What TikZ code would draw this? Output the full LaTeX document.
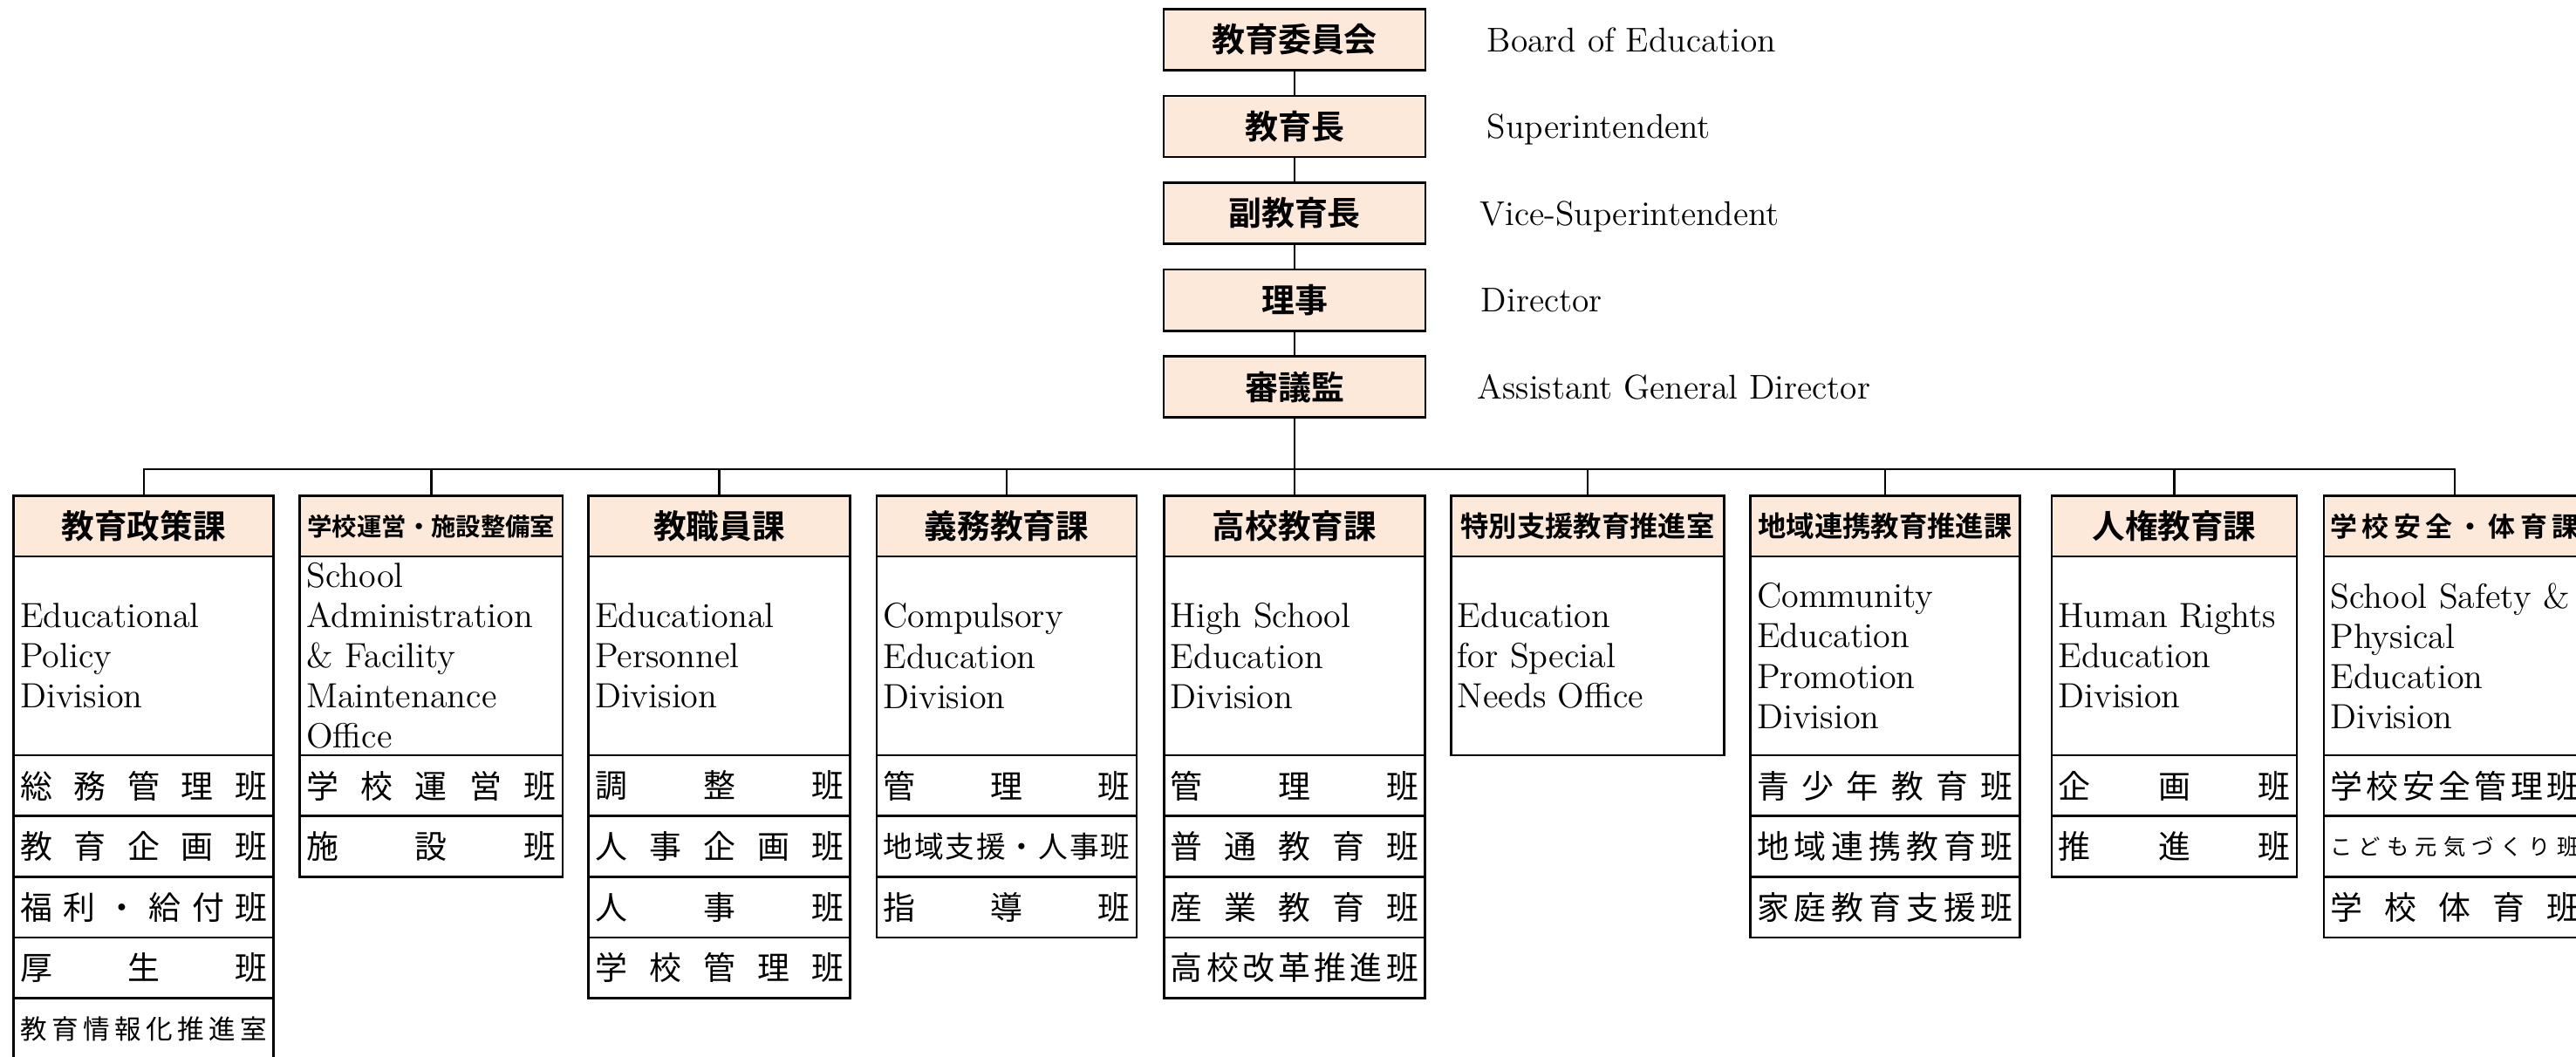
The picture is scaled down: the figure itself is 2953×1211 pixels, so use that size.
\documentclass[tikz,border=0pt]{standalone}
\usepackage{fontspec}
\newfontfamily\jpfont{Noto Sans CJK JP}[BoldFont={* Bold}]
\usetikzlibrary{positioning}
\definecolor{headfill}{RGB}{253,233,217}

\makeatletter
\newcommand\spread[1]{\hbox to\linewidth{\@tfor\spr@ch:=#1\do{\spr@ch\hfill}\unskip}}
\makeatother

\tikzstyle{topbox}   = [draw, line width=0.75pt, fill=headfill, minimum width=3cm, minimum height=0.7cm, outer sep=0pt, font=\jpfont\bfseries\fontsize{10.8}{12}\selectfont]
\tikzstyle{toplabel} = [inner xsep=0pt, text height=7.8pt, text depth=0pt, font=\fontsize{11.2}{13}\selectfont]
\tikzstyle{head}     = [draw, line width=0.75pt, fill=headfill, minimum height=0.695cm, inner xsep=0.075cm, inner ysep=0pt, outer sep=0pt, align=center, font=\jpfont\bfseries\fontsize{10.7}{12}\selectfont]
\tikzstyle{desc}     = [draw, line width=0.75pt, minimum height=2.28cm, inner xsep=0.075cm, inner ysep=0pt, outer sep=0pt, align=left, font=\fontsize{11.4}{13.1}\selectfont]
\tikzstyle{team}     = [draw, line width=0.75pt, minimum height=0.696cm, inner xsep=0.075cm, inner ysep=0pt, outer sep=0pt, font=\jpfont\fontsize{10.5}{12}\selectfont]
\tikzstyle{link}     = [line width=0.65pt]
\tikzset{col/.style={minimum width=#1cm, text width=#1cm-0.15cm}}

\begin{document}
\begin{tikzpicture}[x=0.01cm, y=-0.01cm]
    \useasboundingbox (0,0) rectangle (2953,1211);

    % top of the organisation
    \node[topbox] (boe) at (1484,45.5) {教育委員会};
    \node[topbox, below=0.295cm of boe] (supt) {教育長};
    \node[topbox, below=0.295cm of supt] (vsupt) {副教育長};
    \node[topbox, below=0.295cm of vsupt] (dir) {理事};
    \node[topbox, below=0.295cm of dir] (agd) {審議監};

    \node[toplabel, right=0.7cm of boe] (boe-en) {Board of Education};
    \node[toplabel, right=0.7cm of supt] (supt-en) {Superintendent};
    \node[toplabel, right=0.62cm of vsupt] (vsupt-en) {Vice-Superintendent};
    \node[toplabel, right=0.63cm of dir] (dir-en) {Director};
    \node[toplabel, right=0.59cm of agd] (agd-en) {Assistant General Director};

    % divisions
    \begin{scope}[every node/.append style={col=2.98}]
        \node[head] (policy) at (164.7,603.25) {教育政策課};
        \node[desc, below=0pt of policy] (policy-en) {Educational\\Policy\\Division};
        \node[team, below=0pt of policy-en] (policy-1) {\spread{総務管理班}};
        \node[team, below=0pt of policy-1] (policy-2) {\spread{教育企画班}};
        \node[team, below=0pt of policy-2] (policy-3) {\spread{福利・給付班}};
        \node[team, below=0pt of policy-3] (policy-4) {\spread{厚生班}};
        \node[team, below=0pt of policy-4, font=\jpfont\fontsize{8.7}{10}\selectfont] (policy-5) {\spread{教育情報化推進室}};
    \end{scope}

    \begin{scope}[every node/.append style={col=3.01}]
        \node[head, font=\jpfont\bfseries\fontsize{8.07}{10}\selectfont] (facility) at (494.4,603.25) {学校運営・施設整備室};
        \node[desc, below=0pt of facility] (facility-en) {School\\Administration\\\& Facility\\Maintenance\\Office};
        \node[team, below=0pt of facility-en] (facility-1) {\spread{学校運営班}};
        \node[team, below=0pt of facility-1] (facility-2) {\spread{施設班}};
    \end{scope}

    \begin{scope}[every node/.append style={col=3.00}]
        \node[head] (personnel) at (824.6,603.25) {教職員課};
        \node[desc, below=0pt of personnel] (personnel-en) {Educational\\Personnel\\Division};
        \node[team, below=0pt of personnel-en] (personnel-1) {\spread{調整班}};
        \node[team, below=0pt of personnel-1] (personnel-2) {\spread{人事企画班}};
        \node[team, below=0pt of personnel-2] (personnel-3) {\spread{人事班}};
        \node[team, below=0pt of personnel-3] (personnel-4) {\spread{学校管理班}};
    \end{scope}

    \begin{scope}[every node/.append style={col=2.98}]
        \node[head] (compulsory) at (1154,603.25) {義務教育課};
        \node[desc, below=0pt of compulsory] (compulsory-en) {Compulsory\\Education\\Division};
        \node[team, below=0pt of compulsory-en] (compulsory-1) {\spread{管理班}};
        \node[team, below=0pt of compulsory-1, font=\jpfont\fontsize{9.6}{11}\selectfont] (compulsory-2) {\spread{地域支援・人事班}};
        \node[team, below=0pt of compulsory-2] (compulsory-3) {\spread{指導班}};
    \end{scope}

    \begin{scope}[every node/.append style={col=2.99}]
        \node[head] (highschool) at (1484,603.25) {高校教育課};
        \node[desc, below=0pt of highschool] (highschool-en) {High School\\Education\\Division};
        \node[team, below=0pt of highschool-en] (highschool-1) {\spread{管理班}};
        \node[team, below=0pt of highschool-1] (highschool-2) {\spread{普通教育班}};
        \node[team, below=0pt of highschool-2] (highschool-3) {\spread{産業教育班}};
        \node[team, below=0pt of highschool-3] (highschool-4) {\spread{高校改革推進班}};
    \end{scope}

    \begin{scope}[every node/.append style={col=3.13}]
        \node[head, font=\jpfont\bfseries\fontsize{9.2}{11}\selectfont] (special) at (1820,603.25) {特別支援教育推進室};
        \node[desc, below=0pt of special] (special-en) {Education\\for Special\\Needs Office};
    \end{scope}

    \begin{scope}[every node/.append style={col=3.085}]
        \node[head, font=\jpfont\bfseries\fontsize{9.2}{11}\selectfont] (community) at (2161,603.25) {地域連携教育推進課};
        \node[desc, below=0pt of community] (community-en) {Community\\Education\\Promotion\\Division};
        \node[team, below=0pt of community-en] (community-1) {\spread{青少年教育班}};
        \node[team, below=0pt of community-1] (community-2) {\spread{地域連携教育班}};
        \node[team, below=0pt of community-2] (community-3) {\spread{家庭教育支援班}};
    \end{scope}

    \begin{scope}[every node/.append style={col=2.81}]
        \node[head] (rights) at (2492.5,603.25) {人権教育課};
        \node[desc, below=0pt of rights] (rights-en) {Human Rights\\Education\\Division};
        \node[team, below=0pt of rights-en] (rights-1) {\spread{企画班}};
        \node[team, below=0pt of rights-1] (rights-2) {\spread{推進班}};
    \end{scope}

    \begin{scope}[every node/.append style={col=3.00}]
        \node[head, font=\jpfont\bfseries\fontsize{8.8}{10}\selectfont] (safety) at (2814,603.25) {\spread{学校安全・体育課}};
        \node[desc, below=0pt of safety] (safety-en) {School Safety \&\\Physical\\Education\\Division};
        \node[team, below=0pt of safety-en] (safety-1) {\spread{学校安全管理班}};
        \node[team, below=0pt of safety-1, font=\jpfont\fontsize{7.2}{9}\selectfont] (safety-2) {\spread{こども元気づくり班}};
        \node[team, below=0pt of safety-2] (safety-3) {\spread{学校体育班}};
    \end{scope}

    % connectors
    \coordinate (bar) at (1484,538);
    \draw[link] (boe) -- (supt);
    \draw[link] (supt) -- (vsupt);
    \draw[link] (vsupt) -- (dir);
    \draw[link] (dir) -- (agd);
    \draw[link] (agd) -- (highschool);
    \draw[link] (policy.north) -- (policy.north |- bar) -- (safety.north |- bar) -- (safety.north);
    \foreach \d in {facility,personnel,compulsory,special,community,rights}
        \draw[link] (\d.north) -- (\d.north |- bar);
\end{tikzpicture}
\end{document}
